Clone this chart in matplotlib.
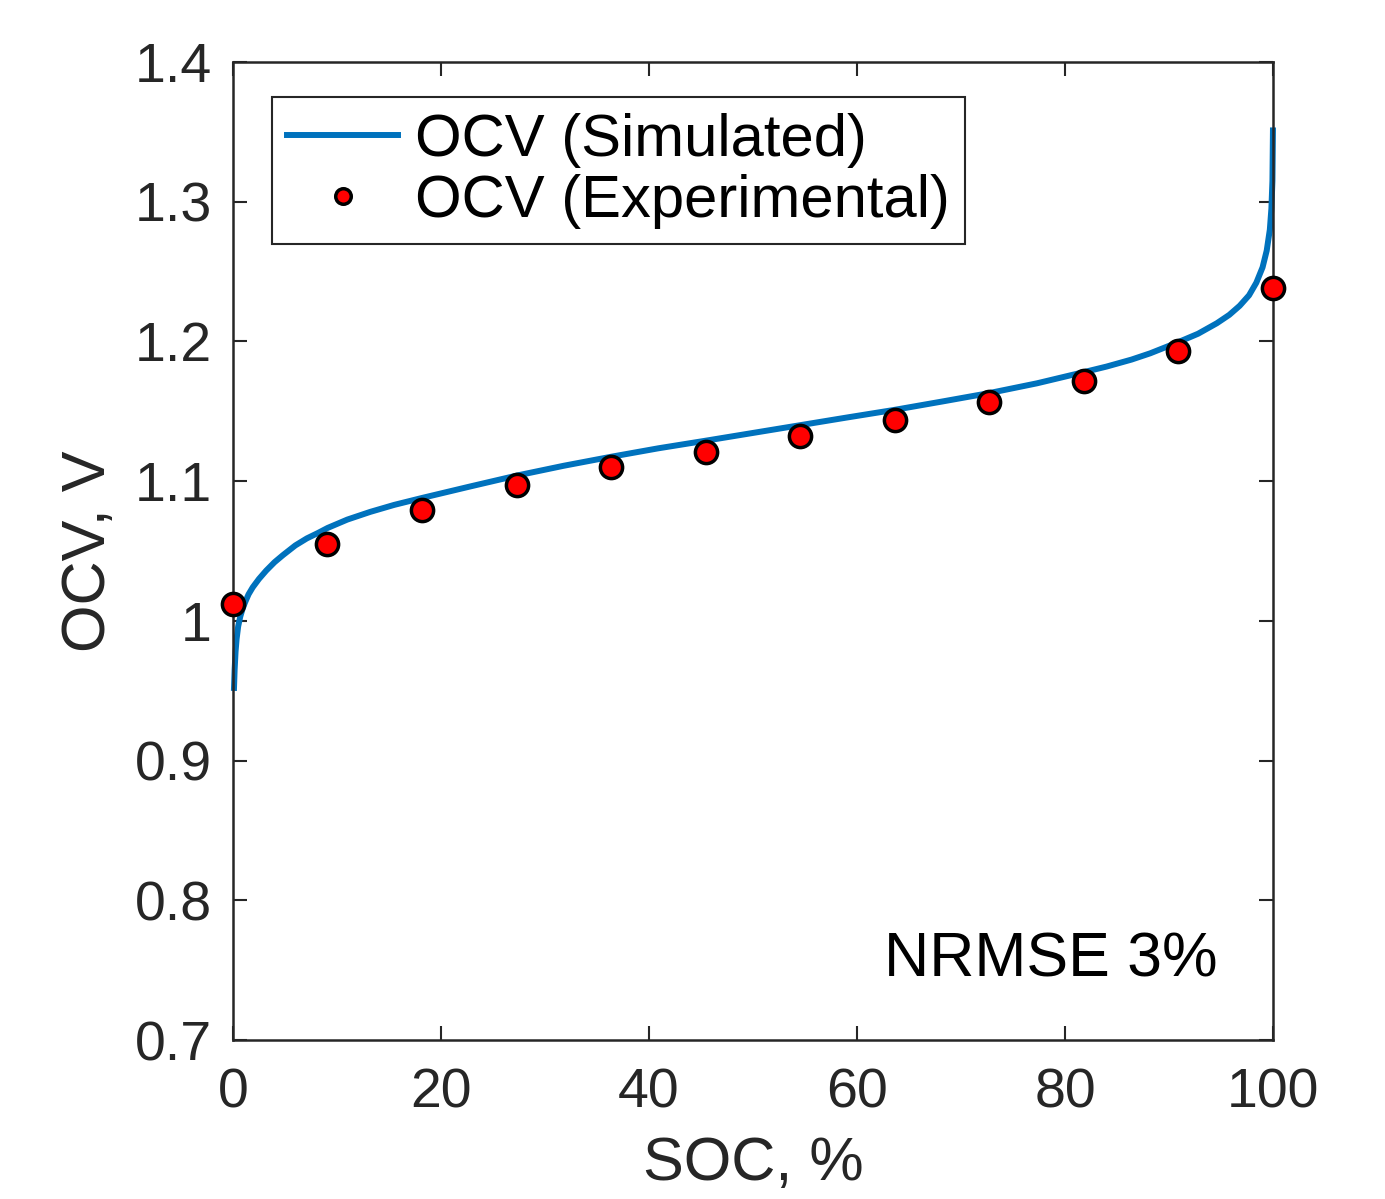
import matplotlib
matplotlib.use("Agg")
import matplotlib.pyplot as plt

# simulated OCV curve
soc_sim = [0.1, 0.16, 0.25, 0.35, 0.5, 0.7, 0.9, 1.15, 1.5, 1.9, 2.5, 3.2, 4.0,
           4.8, 6.0, 7.1, 8.2, 9.1, 11, 13.2, 15.5, 18.2, 22.7, 27.3, 31.8, 36.4,
           40.9, 45.5, 50, 54.5, 59, 63.6, 68.2, 72.7, 77.3, 81.8, 84, 86.4, 88.2,
           90.9, 92.8, 94.6, 95.8, 96.8, 97.7, 98.4, 99.0, 99.4, 99.7, 99.85,
           99.95, 100]
ocv_sim = [0.952, 0.965, 0.978, 0.987, 0.996, 1.003, 1.008, 1.013, 1.019, 1.024,
           1.030, 1.036, 1.042, 1.047, 1.054, 1.059, 1.063, 1.0665, 1.0725, 1.078,
           1.083, 1.088, 1.096, 1.104, 1.111, 1.1175, 1.1235, 1.129, 1.1345,
           1.140, 1.1455, 1.151, 1.157, 1.163, 1.170, 1.178, 1.182, 1.187,
           1.1915, 1.1995, 1.2055, 1.213, 1.219, 1.2255, 1.233, 1.242, 1.253,
           1.265, 1.280, 1.295, 1.315, 1.351]

# experimental points
soc_exp = [0, 9.09, 18.18, 27.27, 36.36, 45.45, 54.55, 63.64, 72.73, 81.82, 90.91, 100]
ocv_exp = [1.012, 1.055, 1.079, 1.097, 1.110, 1.121, 1.132, 1.144, 1.157, 1.172, 1.193, 1.238]

plt.rcParams['font.family'] = ['Liberation Sans', 'DejaVu Sans']

fig = plt.figure(figsize=(13.85, 11.99), dpi=100)
ax = fig.add_axes([0.1682, 0.1326, 0.7509, 0.8157])

ax.plot(soc_sim, ocv_sim, color='#0072BD', lw=4.3, label='OCV (Simulated)',
        clip_on=False, zorder=2)
ax.plot(soc_exp, ocv_exp, 'o', ms=16, mfc='#ff0000', mec='black', mew=2.5,
        label='OCV (Experimental)', clip_on=False, zorder=3)

ax.set_xlim(0, 100)
ax.set_ylim(0.7, 1.4)
ax.set_xticks([0, 20, 40, 60, 80, 100])
ax.set_yticks([0.7, 0.8, 0.9, 1.0, 1.1, 1.2, 1.3, 1.4])
ax.set_yticklabels(['0.7', '0.8', '0.9', '1', '1.1', '1.2', '1.3', '1.4'])

ax.tick_params(direction='in', length=10, width=1.5, top=True, right=True,
               labelsize=40, colors='#262626')
ax.tick_params(axis='y', pad=15)
ax.tick_params(axis='x', pad=20)
for s in ax.spines.values():
    s.set_linewidth(1.8)
    s.set_color('#262626')

ax.set_xlabel('SOC, %', fontsize=44, color='#262626', labelpad=12)
ax.set_ylabel('OCV, V', fontsize=44, color='#262626', labelpad=12)

ax.text(0.947, 0.065, 'NRMSE 3%', transform=ax.transAxes, fontsize=45,
        ha='right', va='baseline', color='black')

leg = ax.legend(loc='upper left', bbox_to_anchor=(0.0375, 0.964), fontsize=43,
                fancybox=False, framealpha=1, edgecolor='#262626',
                handlelength=1.85, handletextpad=0.28, borderpad=0.26,
                borderaxespad=0, labelspacing=0.1, markerscale=0.7)
leg.get_frame().set_linewidth(1.5)

fig.savefig('out.png', dpi=100)
